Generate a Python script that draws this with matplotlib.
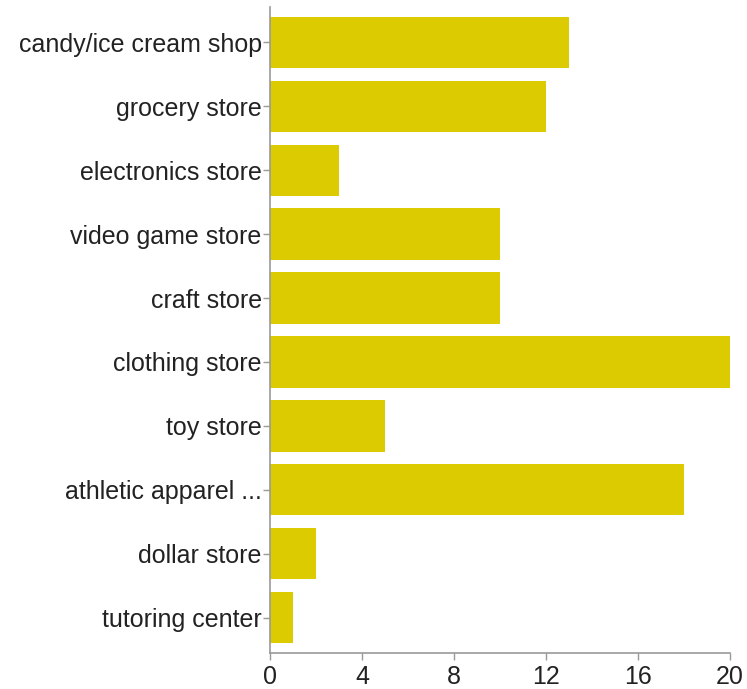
import matplotlib
matplotlib.use("Agg")
import matplotlib.pyplot as plt

categories = ["candy/ice cream shop", "grocery store", "electronics store", "video game store",
              "craft store", "clothing store", "toy store", "athletic apparel ...",
              "dollar store", "tutoring center"]
values = [13, 12, 3, 10, 10, 20, 5, 18, 2, 1]
xticks = [0, 4, 8, 12, 16, 20]

plt.rcParams['font.family'] = ['Liberation Sans', 'DejaVu Sans']

W, H = 747, 689
fig = plt.figure(figsize=(W/100, H/100), dpi=100)
ax = fig.add_axes([270/W, (H-653)/H, (730-270)/W, (653-7)/H])

ypos = list(range(len(categories)))
ax.barh(ypos, values, height=0.8, color="#DCCB00", edgecolor="none")
ax.set_ylim(9.55, -0.55)
ax.set_xlim(0, 20)
ax.set_yticks(ypos)
ax.set_yticklabels(categories, fontsize=18, color="#222222")
ax.set_xticks(xticks)
ax.set_xticklabels([str(t) for t in xticks], fontsize=18, color="#222222")
for s in ["top", "right"]:
    ax.spines[s].set_visible(False)
for s in ["left", "bottom"]:
    ax.spines[s].set_color("#999999")
    ax.spines[s].set_linewidth(1.2)
ax.tick_params(axis="both", colors="#999999", length=5, width=1, labelcolor="#222222")
ax.tick_params(axis="y", pad=1)
ax.tick_params(axis="x", pad=4)

fig.savefig("out.png", dpi=100)
